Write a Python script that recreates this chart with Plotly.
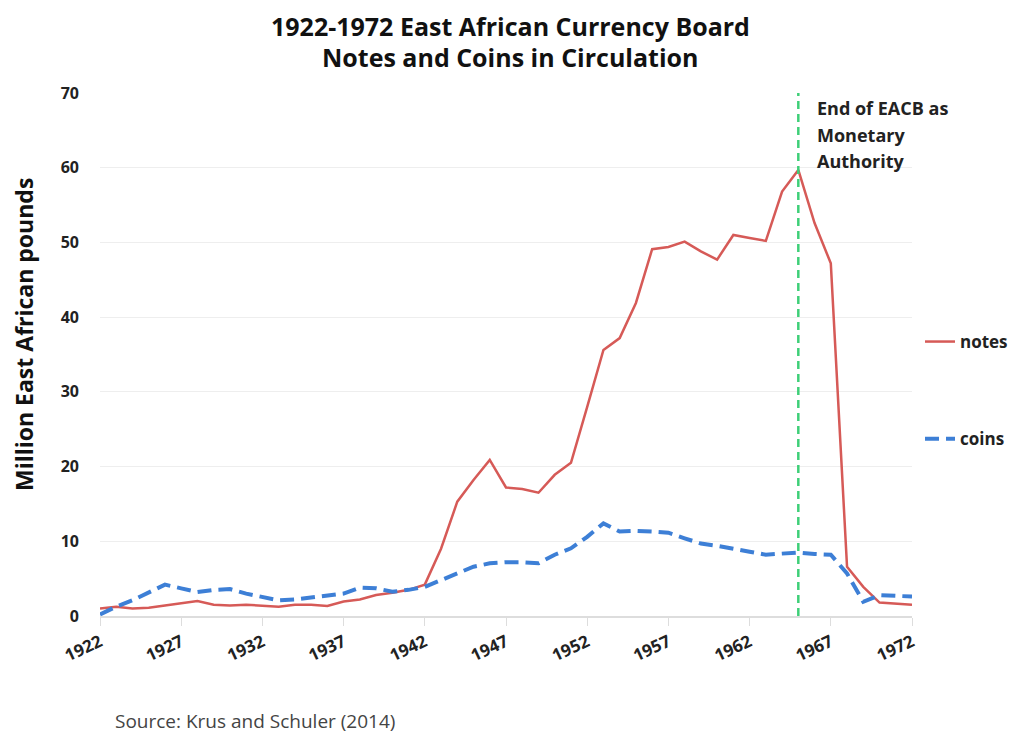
import plotly.graph_objects as go

years = list(range(1922, 1973))
notes = [1.0, 1.25, 1.0, 1.1, 1.4, 1.7, 2.0, 1.5, 1.4, 1.5,
         1.4, 1.25, 1.5, 1.5, 1.35, 1.95, 2.2, 2.8, 3.1, 3.5,
         4.2, 9.0, 15.3, 18.2, 20.9, 17.2, 17.0, 16.5, 18.9, 20.5,
         28.0, 35.6, 37.2, 41.9, 49.1, 49.4, 50.1, 48.8, 47.7, 51.0,
         50.6, 50.2, 56.8, 59.7, 52.6, 47.2, 6.6, 3.9, 1.8, 1.7,
         1.5]
coins = [0.2, 1.25, 2.1, 3.1, 4.2, 3.7, 3.2, 3.5, 3.6, 3.0,
         2.5, 2.1, 2.2, 2.5, 2.7, 3.0, 3.8, 3.7, 3.25, 3.5,
         3.9, 4.8, 5.7, 6.6, 7.05, 7.2, 7.2, 7.05, 8.2, 9.06,
         10.6, 12.4, 11.3, 11.4, 11.3, 11.15, 10.4, 9.7, 9.4, 9.06,
         8.6, 8.2, 8.3, 8.5, 8.3, 8.2, 5.7, 1.9, 2.8, 2.7,
         2.6]
end_year = 1965
note_lines = ["End of EACB as", "Monetary", "Authority"]
x_ticks = list(range(1922, 1973, 5))
y_ticks = list(range(0, 71, 10))

FONT = "Open Sans"
OFF = 8  # default page body margin
W, H = 1019 - OFF, 736 - OFF
L, R, T, B = 100 - OFF, 107, 93 - OFF, 120
PH = H - T - B
PW = W - L - R


def py(pix):
    # page pixel row -> paper y coordinate
    return (H - B - (pix - OFF)) / PH


def px(pix):
    return ((pix - OFF) - L) / PW


fig = go.Figure()
fig.add_trace(go.Scatter(x=years, y=notes, mode="lines", name="<b>notes</b>",
                         legendgroup="a",
                         line=dict(color="#d65a57", width=2.5)))
fig.add_trace(go.Scatter(x=years, y=coins, mode="lines", name="<b>coins</b>",
                         legendgroup="b",
                         line=dict(color="#3d7fd6", width=4, dash="14px,7px")))

fig.add_shape(type="line", x0=end_year, x1=end_year, y0=0, y1=70,
              xref="x", yref="y",
              line=dict(color="#3ecf78", width=2.5, dash="8px,5px"))

for line_txt, ypix in zip(note_lines, [108, 135, 161]):
    fig.add_annotation(x=end_year, y=py(ypix), xref="x", yref="paper",
                       text=f"<b>{line_txt}</b>",
                       showarrow=False, xanchor="left", yanchor="middle",
                       xshift=17, align="left",
                       font=dict(family=FONT, size=18, color="#222222"))

# Title
fig.add_annotation(x=px(510), y=py(26), xref="paper", yref="paper",
                   text="<b>1922-1972 East African Currency Board</b>",
                   showarrow=False, xanchor="center", yanchor="middle",
                   font=dict(family=FONT, size=25, color="#111111"))
fig.add_annotation(x=px(510), y=py(57), xref="paper", yref="paper",
                   text="<b>Notes and Coins in Circulation</b>",
                   showarrow=False, xanchor="center", yanchor="middle",
                   font=dict(family=FONT, size=25, color="#111111"))

# Y axis title
fig.add_annotation(x=px(24), y=py(335), xref="paper", yref="paper",
                   text="<b>Million East African pounds</b>", textangle=-90,
                   showarrow=False, xanchor="center", yanchor="middle",
                   font=dict(family=FONT, size=23, color="#111111"))

# Source
fig.add_annotation(x=px(113), y=py(721), xref="paper", yref="paper",
                   text="Source: Krus and Schuler (2014)",
                   showarrow=False, xanchor="left", yanchor="middle",
                   font=dict(family=FONT, size=19, color="#444444"))

fig.update_layout(
    width=W, height=H,
    margin=dict(l=L, r=R, t=T, b=B, autoexpand=False),
    paper_bgcolor="white", plot_bgcolor="white",
    font=dict(family=FONT, color="#222222"),
    legend=dict(x=px(920), y=py(324), xanchor="left", yanchor="top",
                traceorder="grouped", tracegroupgap=72,
                font=dict(family=FONT, size=17, color="#222222"),
                bgcolor="rgba(0,0,0,0)", itemwidth=30),
    xaxis=dict(range=[1922, 1972], tickmode="array", tickvals=x_ticks,
               ticktext=[f"<b>{t}</b>" for t in x_ticks], tickangle=-25,
               showgrid=False, showline=True, linecolor="#dddddd", linewidth=1.5,
               ticks="outside", ticklen=8, tickcolor="#dddddd",
               tickfont=dict(family=FONT, size=17, color="#222222"),
               zeroline=False, automargin=False),
    yaxis=dict(range=[0, 70], tickmode="array", tickvals=y_ticks,
               ticktext=[f"<b>{t}</b>" for t in y_ticks],
               showgrid=True, gridcolor="#eeeeee", gridwidth=1.2, zeroline=False,
               showline=False, ticks="", ticklabelstandoff=20,
               tickfont=dict(family=FONT, size=16, color="#222222"),
               automargin=False),
)

fig.write_html("out.html")
